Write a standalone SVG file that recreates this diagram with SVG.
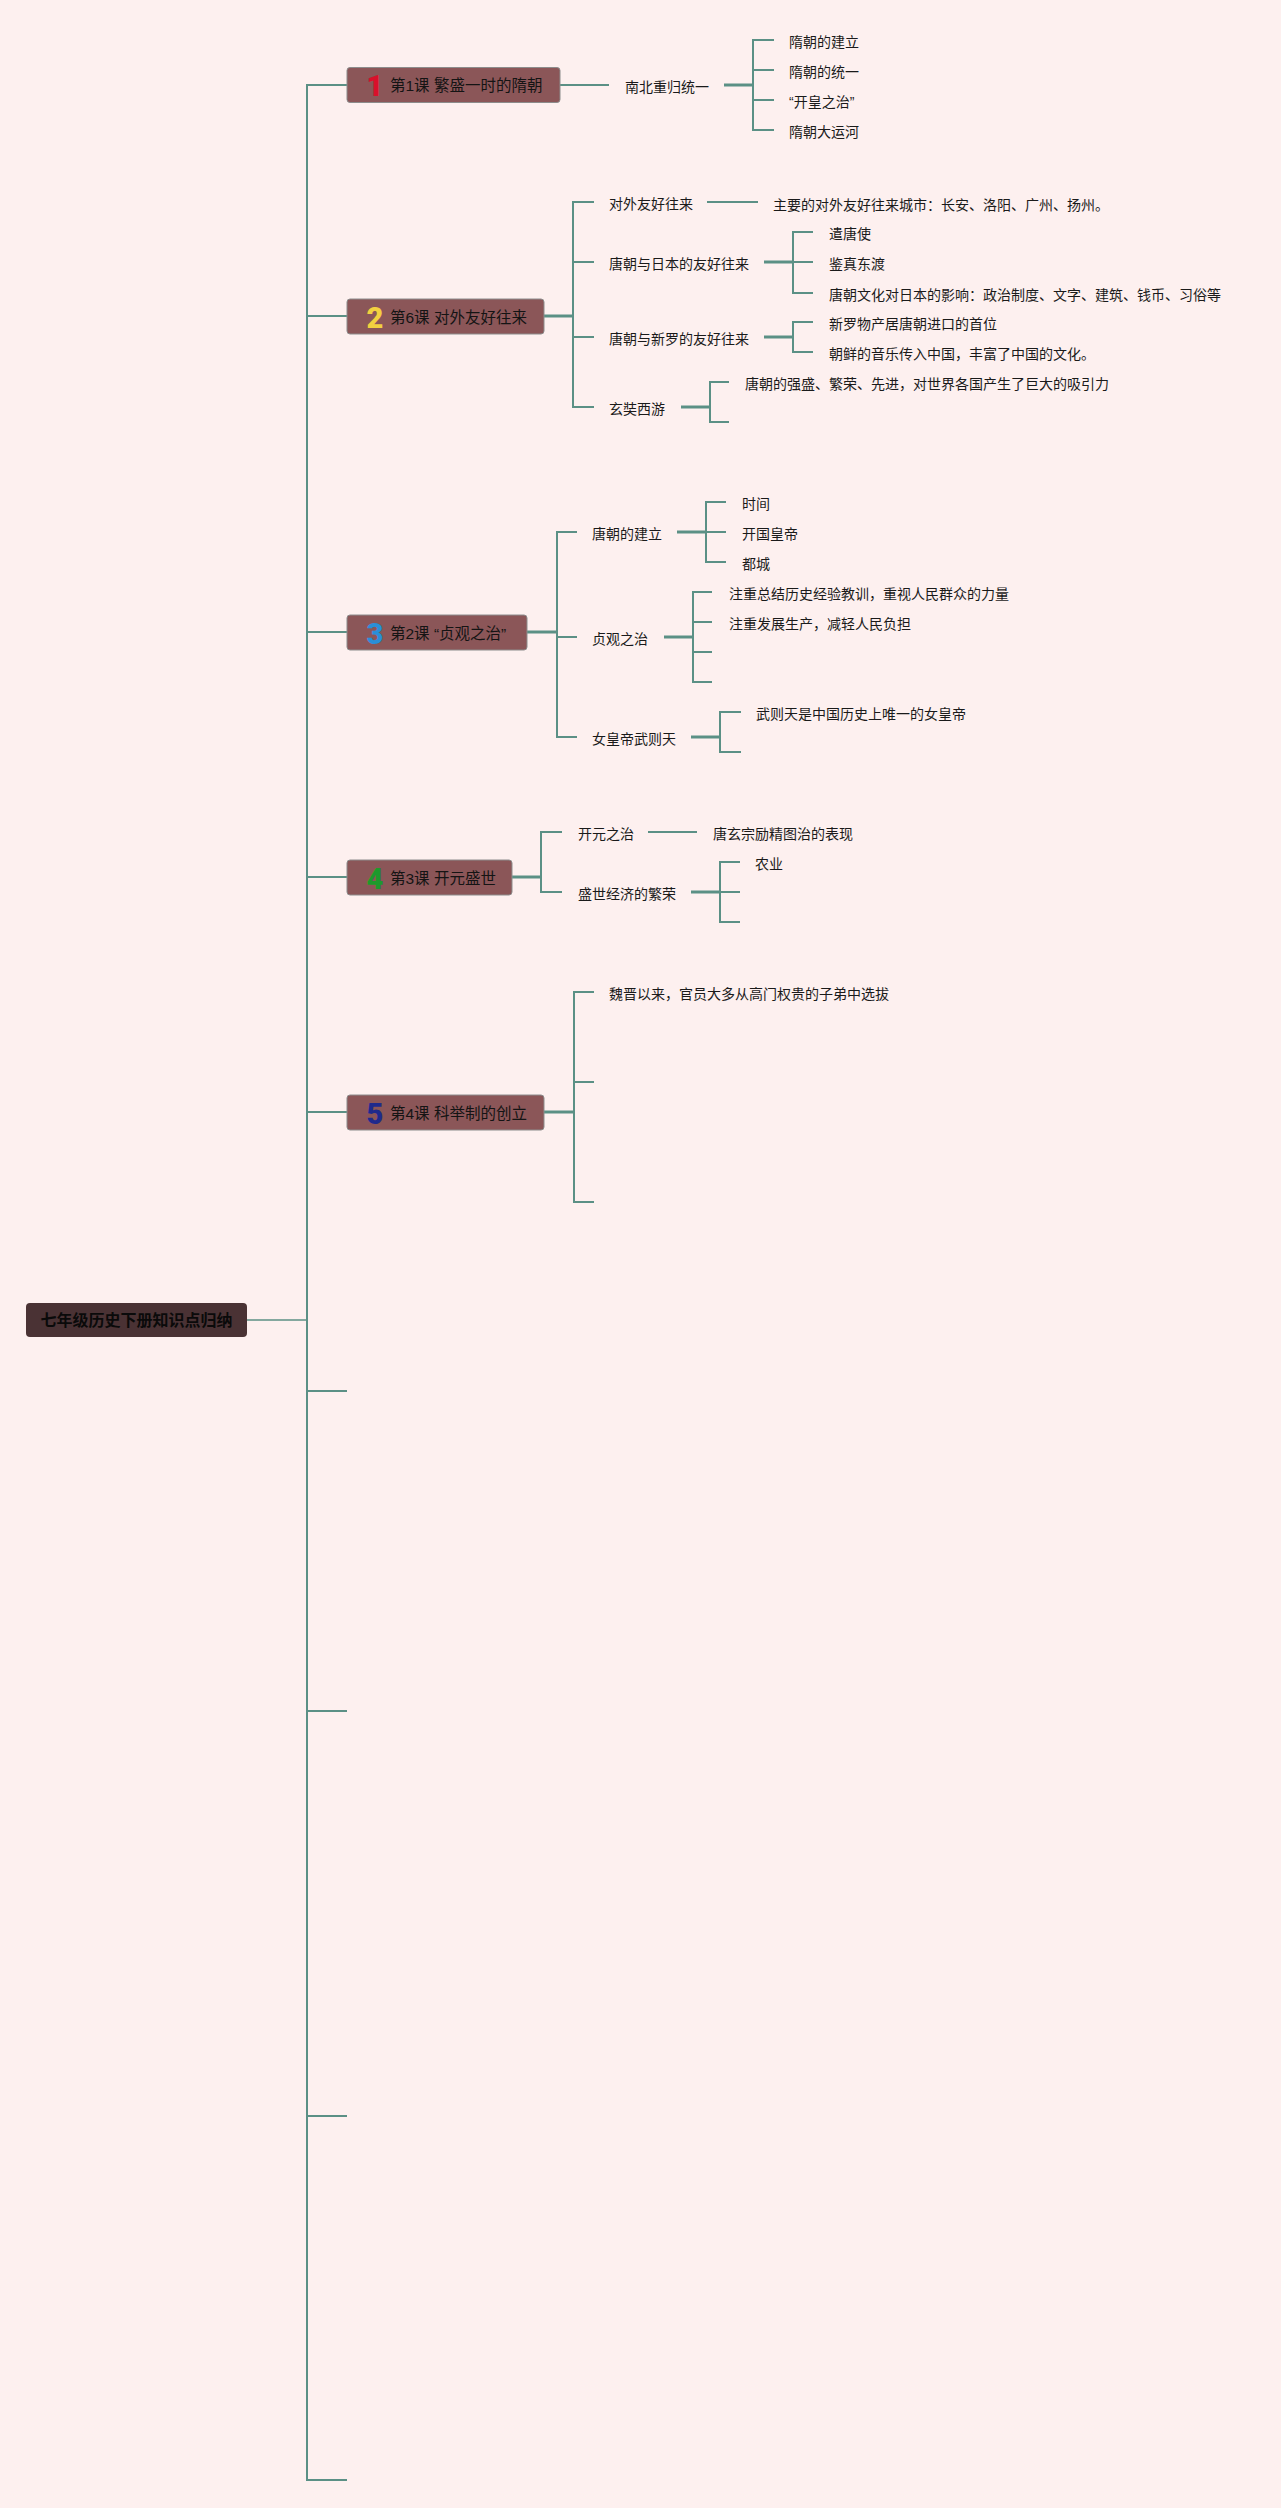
<svg xmlns="http://www.w3.org/2000/svg" width="1281" height="2508" viewBox="0 0 1281 2508">
<style>
.bg{fill:#fdf0ef}
.lesson{fill:#8b5658;stroke:#8c8c8c;stroke-width:1}
.root{fill:#4a3234}
.c{fill:none;stroke:#5b9085;stroke-width:2}
.c3{fill:none;stroke:#5b9085;stroke-width:3}
.t{font-family:"Liberation Sans","Noto Sans CJK SC",sans-serif;font-size:14px;fill:#1a1a1a}
.tt{font-family:"Liberation Sans","Noto Sans CJK SC",sans-serif;font-size:15.5px;fill:#141414}
.rt{font-family:"Noto Sans CJK SC",sans-serif;font-size:16px;font-weight:bold;fill:#0a0a0a}
.num{font-family:Roboto,"Liberation Sans",sans-serif;font-size:29px;font-weight:900;text-anchor:middle}
</style>
<rect class="bg" x="0" y="0" width="1281" height="2508"/>
<g id="connectors">
<path class="c" d="M347 85H307V2480H347M307 316H347M307 632H347M307 877H347M307 1112H347M307 1391H347M307 1711H347M307 2116H347"/>
<path class="c" d="M247 1320H307" style="stroke-width:1.5"/>
<path class="c" d="M560 85H609"/>
<path class="c3" d="M724 85H753"/>
<path class="c" d="M774 40H753V130H774M753 70H774M753 100H774"/>
<path class="c3" d="M544 316H573"/>
<path class="c" d="M594 202H573V407H594M573 262H594M573 337H594"/>
<path class="c" d="M707 202H758"/>
<path class="c3" d="M764 262H793"/>
<path class="c" d="M813 232H793V293H813M793 262H813"/>
<path class="c3" d="M764 337H793"/>
<path class="c" d="M813 322H793V352H813"/>
<path class="c3" d="M681 407H710"/>
<path class="c" d="M729 382H710V422H729"/>
<path class="c3" d="M527 632H557"/>
<path class="c" d="M577 532H557V737H577M557 637H577"/>
<path class="c3" d="M677 532H706"/>
<path class="c" d="M726 502H706V562H726M706 532H726"/>
<path class="c3" d="M664 637H693"/>
<path class="c" d="M712 592H693V682H712M693 622H712M693 652H712"/>
<path class="c3" d="M691 737H720"/>
<path class="c" d="M741 712H720V752H741"/>
<path class="c3" d="M512 877H541"/>
<path class="c" d="M562 832H541V892H562"/>
<path class="c" d="M648 832H697"/>
<path class="c3" d="M691 892H720"/>
<path class="c" d="M740 862H720V922H740M720 892H740"/>
<path class="c3" d="M544 1112H574"/>
<path class="c" d="M594 992H574V1202H594M574 1082H594"/>
</g>
<g id="root"><rect class="root" x="26" y="1303" width="221" height="34" rx="4"/><text class="rt" x="136.5" y="1326" text-anchor="middle">七年级历史下册知识点归纳</text></g>
<g id="lesson1"><rect class="lesson" x="347" y="67.5" width="213" height="35" rx="3"/><text class="num" x="375" y="96" fill="#d9102b">1</text><text class="tt" x="390" y="91">第1课 繁盛一时的隋朝</text></g>
<g id="lesson2"><rect class="lesson" x="347" y="299" width="197" height="35" rx="3"/><text class="num" x="375" y="327.5" fill="#f2d040">2</text><text class="tt" x="390" y="322.5">第6课 对外友好往来</text></g>
<g id="lesson3"><rect class="lesson" x="347" y="615" width="180" height="35" rx="3"/><text class="num" x="375" y="643.5" fill="#2a8fd8">3</text><text class="tt" x="390" y="638.5">第2课 “贞观之治”</text></g>
<g id="lesson4"><rect class="lesson" x="347" y="860" width="165" height="35" rx="3"/><text class="num" x="375" y="888.5" fill="#1d9a2c">4</text><text class="tt" x="390" y="883.5">第3课 开元盛世</text></g>
<g id="lesson5"><rect class="lesson" x="347" y="1095" width="197" height="35" rx="3"/><text class="num" x="375" y="1123.5" fill="#1f2a8c">5</text><text class="tt" x="390" y="1118.5">第4课 科举制的创立</text></g>
<g id="n1-items" transform="translate(0,1.5)">
<text class="t" x="625" y="90">南北重归统一</text>
<text class="t" x="789" y="45">隋朝的建立</text>
<text class="t" x="789" y="75">隋朝的统一</text>
<text class="t" x="789" y="105">“开皇之治”</text>
<text class="t" x="789" y="135">隋朝大运河</text>
</g>
<g id="n2-items" transform="translate(0,1.5)">
<text class="t" x="609" y="207">对外友好往来</text>
<text class="t" x="773" y="208">主要的对外友好往来城市：长安、洛阳、广州、扬州。</text>
<text class="t" x="609" y="267">唐朝与日本的友好往来</text>
<text class="t" x="829" y="237">遣唐使</text>
<text class="t" x="829" y="267">鉴真东渡</text>
<text class="t" x="829" y="298">唐朝文化对日本的影响：政治制度、文字、建筑、钱币、习俗等</text>
<text class="t" x="609" y="342">唐朝与新罗的友好往来</text>
<text class="t" x="829" y="327">新罗物产居唐朝进口的首位</text>
<text class="t" x="829" y="357">朝鲜的音乐传入中国，丰富了中国的文化。</text>
<text class="t" x="609" y="412">玄奘西游</text>
<text class="t" x="745" y="387">唐朝的强盛、繁荣、先进，对世界各国产生了巨大的吸引力</text>
</g>
<g id="n3-items" transform="translate(0,1.5)">
<text class="t" x="592" y="537">唐朝的建立</text>
<text class="t" x="742" y="507">时间</text>
<text class="t" x="742" y="537">开国皇帝</text>
<text class="t" x="742" y="567">都城</text>
<text class="t" x="592" y="642">贞观之治</text>
<text class="t" x="729" y="597">注重总结历史经验教训，重视人民群众的力量</text>
<text class="t" x="729" y="627">注重发展生产，减轻人民负担</text>
<text class="t" x="592" y="742">女皇帝武则天</text>
<text class="t" x="756" y="717">武则天是中国历史上唯一的女皇帝</text>
</g>
<g id="n4-items" transform="translate(0,1.5)">
<text class="t" x="578" y="837">开元之治</text>
<text class="t" x="713" y="837">唐玄宗励精图治的表现</text>
<text class="t" x="578" y="897">盛世经济的繁荣</text>
<text class="t" x="755" y="867">农业</text>
</g>
<g id="n5-items" transform="translate(0,1.5)">
<text class="t" x="609" y="997">魏晋以来，官员大多从高门权贵的子弟中选拔</text>
</g>
</svg>
